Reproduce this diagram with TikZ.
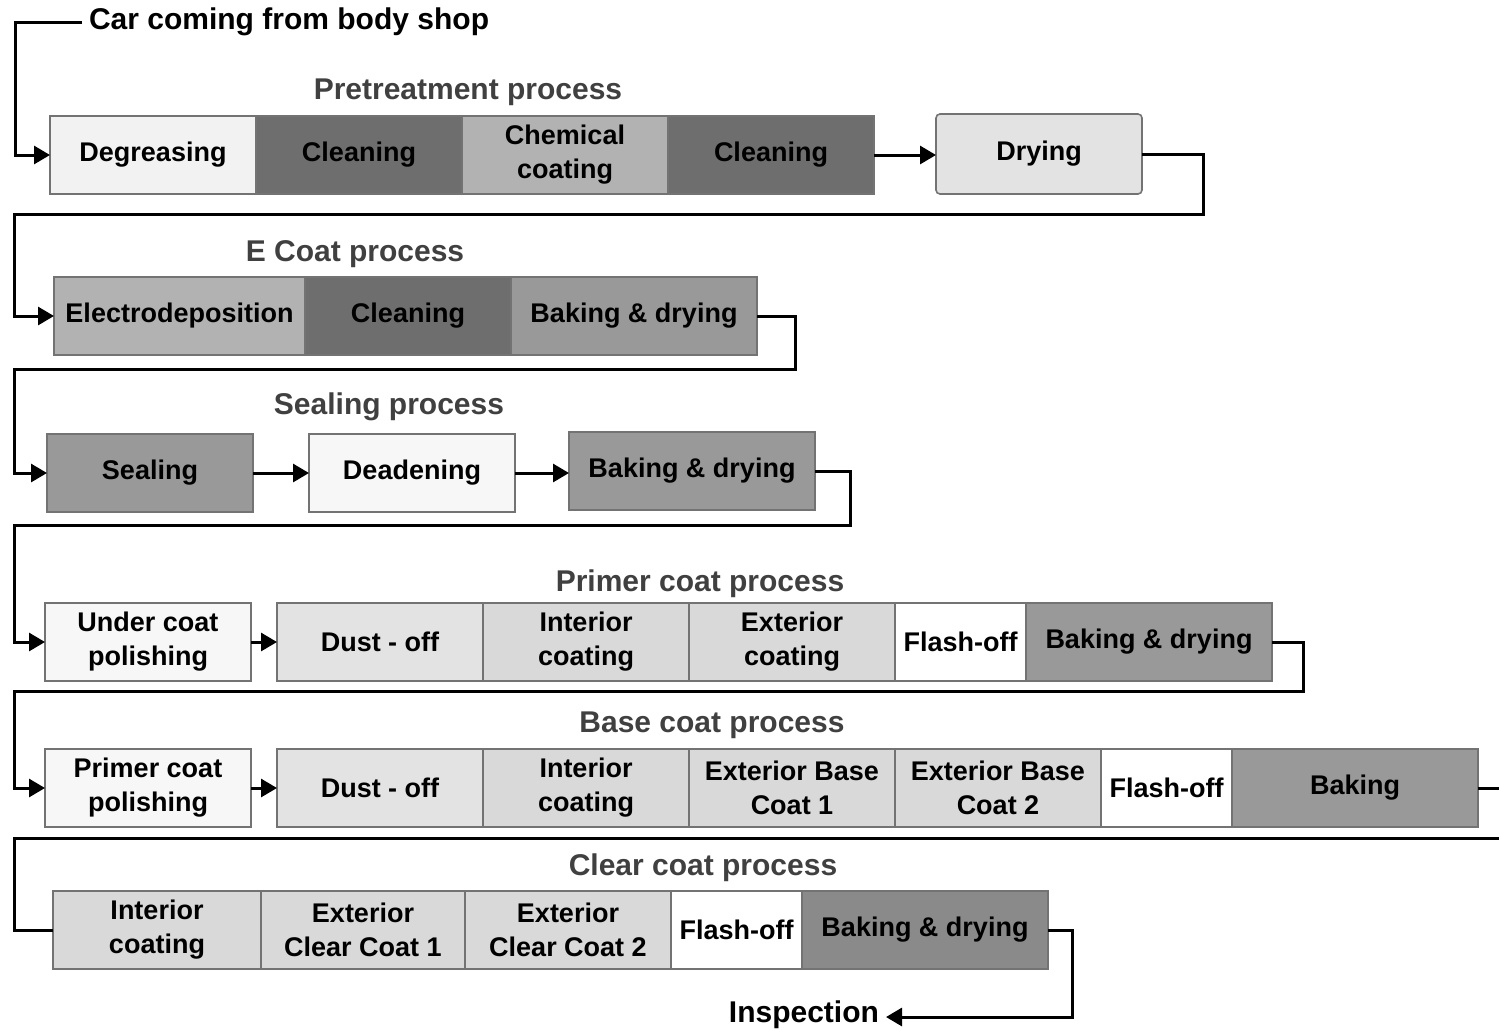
\documentclass[tikz,border=0pt]{standalone}
\usepackage{fontspec}
\setmainfont{Liberation Sans}
\usetikzlibrary{positioning,arrows.meta}

\definecolor{lite}{gray}{0.95}
\definecolor{snow}{gray}{0.97}
\definecolor{pale}{gray}{0.89}
\definecolor{coat}{gray}{0.85}
\definecolor{mid}{gray}{0.70}
\definecolor{bake}{gray}{0.60}
\definecolor{dark}{gray}{0.43}

\tikzset{
  stage/.style={draw=black!55, line width=0.8pt, fill=#1, minimum height=39pt,
    minimum width=103pt, inner sep=1pt, outer sep=0pt, align=center,
    font=\bfseries\fontsize{13.5}{17}\selectfont},
  stage/.default=white,
  wide/.style={minimum width=123pt},
  narrow/.style={minimum width=65.5pt},
  title/.style={text=black!75, font=\bfseries\fontsize{15}{17}\selectfont},
  label/.style={font=\bfseries\fontsize{15}{17}\selectfont},
  flow/.style={line width=1.5pt, -{Triangle[length=8pt,width=9pt]}},
  link/.style={line width=1.5pt},
}

\begin{document}
\begin{tikzpicture}[x=0.5pt,y=-0.5pt]
\useasboundingbox (0,0) rectangle (1499,1029);

% pretreatment
\node[label, anchor=west] (car) at (82,22) {Car coming from body shop};
\node[title] (pre) at (468,92) {Pretreatment process};
\node[stage=lite, anchor=north west] (deg) at (50,116) {Degreasing};
\node[stage=dark, right=0pt of deg] (cln1) {Cleaning};
\node[stage=mid, right=0pt of cln1] (chem) {Chemical\\coating};
\node[stage=dark, right=0pt of chem] (cln2) {Cleaning};
\node[stage=pale, rounded corners=2pt, minimum height=40pt, anchor=north west] (dry) at (936,114) {Drying};

% e coat
\node[title] (ecoat) at (355,254) {E Coat process};
\node[stage=mid, minimum width=125.5pt, anchor=north west] (elec) at (54,277) {Electrodeposition};
\node[stage=dark, right=0pt of elec] (cln3) {Cleaning};
\node[stage=bake, wide, right=0pt of cln3] (bake1) {Baking \& drying};

% sealing
\node[title] (seals) at (389,407) {Sealing process};
\node[stage=bake, anchor=north west] (seal) at (47,434) {Sealing};
\node[stage=snow, anchor=north west] (deaden) at (309,434) {Deadening};
\node[stage=bake, wide, anchor=north west] (bake2) at (569,432) {Baking \& drying};

% primer coat
\node[title] (primer) at (700,584) {Primer coat process};
\node[stage=snow, anchor=north west] (under) at (45,603) {Under coat\\polishing};
\node[stage=pale, anchor=north west] (dust1) at (277,603) {Dust - off};
\node[stage=coat, right=0pt of dust1] (int1) {Interior\\coating};
\node[stage=coat, right=0pt of int1] (ext1) {Exterior\\coating};
\node[stage, narrow, right=0pt of ext1] (flash1) {Flash-off};
\node[stage=bake, wide, right=0pt of flash1] (bakep) {Baking \& drying};

% base coat
\node[title] (base) at (712,725) {Base coat process};
\node[stage=snow, anchor=north west] (pcp) at (45,749) {Primer coat\\polishing};
\node[stage=pale, anchor=north west] (dust2) at (277,749) {Dust - off};
\node[stage=coat, right=0pt of dust2] (int2) {Interior\\coating};
\node[stage=coat, right=0pt of int2] (extb1) {Exterior Base\\Coat 1};
\node[stage=coat, right=0pt of extb1] (extb2) {Exterior Base\\Coat 2};
\node[stage, narrow, right=0pt of extb2] (flash2) {Flash-off};
\node[stage=bake, wide, right=0pt of flash2] (bakeb) {Baking};

% clear coat
\node[title] (clear) at (703,868) {Clear coat process};
\node[stage=coat, minimum width=104pt, anchor=north west] (intc) at (53,891) {Interior\\coating};
\node[stage=coat, minimum width=102pt, right=0pt of intc] (extc1) {Exterior\\Clear Coat 1};
\node[stage=coat, right=0pt of extc1] (extc2) {Exterior\\Clear Coat 2};
\node[stage, narrow, right=0pt of extc2] (flashc) {Flash-off};
\node[stage=bake!90!black, wide, right=0pt of flashc] (bakec) {Baking \& drying};
\node[label, anchor=east] (insp) at (886,1015) {Inspection};

% connectors
\coordinate (c0) at (15,22);
\coordinate (r1) at (1203,214);
\coordinate (l1) at (14,214);
\coordinate (r2) at (795,369);
\coordinate (l2) at (14,369);
\coordinate (r3) at (850,525);
\coordinate (l3) at (14,525);
\coordinate (r4) at (1303,691);
\coordinate (l4) at (14,691);
\coordinate (r5) at (1512,838);
\coordinate (l5) at (14,838);
\coordinate (r6) at (1072,1017);

\draw[flow] (car.west) -- (c0) |- (deg.west);
\draw[flow] (cln2.east) -- (cln2.east -| dry.west);
\draw[flow] (dry.east) -| (r1) -- (l1) |- (elec.west);
\draw[flow] (bake1.east) -| (r2) -- (l2) |- (seal.west);
\draw[flow] (seal.east) -- (deaden.west);
\draw[flow] (deaden.east) -- (deaden.east -| bake2.west);
\draw[flow] (bake2.east) -| (r3) -- (l3) |- (under.west);
\draw[flow] (under.east) -- (under.east -| dust1.west);
\draw[flow] (bakep.east) -| (r4) -- (l4) |- (pcp.west);
\draw[flow] (pcp.east) -- (pcp.east -| dust2.west);
\draw[link] (bakeb.east) -| (r5) -- (l5) |- (intc.west);
\draw[flow] (bakec.east) -| (r6) -- (r6 -| insp.east);
\end{tikzpicture}
\end{document}
